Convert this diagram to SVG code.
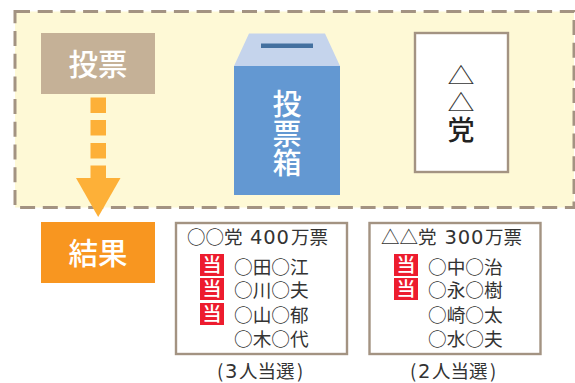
<svg xmlns="http://www.w3.org/2000/svg" width="575" height="383" viewBox="0 0 575 383">
<style>
text{font-family:"Noto Sans CJK JP","Noto Sans",sans-serif}
.w{fill:#fff;text-anchor:middle;font-weight:500}
.n{fill:#333;font-size:18.7px}
.h{fill:#333;font-size:18.5px}
.d{font-family:"DejaVu Sans",sans-serif;font-size:19.5px}
.c{fill:#333;font-size:18.5px}
.r{fill:#fff;stroke:#a39382;stroke-width:2.4}
.t{fill:#ed1c2e}
.a{fill:#fdb038}
.m{fill:#fff;font-size:19px;text-anchor:middle;font-weight:500}
</style>
<g id="panel"><rect x="15" y="11.500" width="559" height="196" fill="#fef9d6" stroke="#a39382" stroke-width="3" stroke-dasharray="15 7.700"/></g>
<g id="vote"><rect x="41" y="33" width="114" height="61" fill="#c5b197"/><text class="w" x="98" y="75" font-size="29.500">投票</text></g>
<g id="connectors">
<rect class="a" x="90.500" y="97.500" width="15.500" height="15.500"/>
<rect class="a" x="90.500" y="120" width="15.500" height="15.500"/>
<rect class="a" x="90.500" y="143" width="15.500" height="15.500"/>
<rect class="a" x="90.500" y="165.500" width="15.500" height="14"/>
<polygon class="a" points="76,178 120.500,178 98.200,217"/>
</g>
<g id="box">
<polygon points="234,66 249,33.500 325,33.500 340,66" fill="#c5d4ec"/>
<rect x="261" y="43.500" width="52" height="4.500" fill="#44709f"/>
<rect x="234" y="66" width="106" height="129" fill="#6398d2"/>
<text class="w" x="287" y="115" font-size="29">投</text>
<text class="w" x="287" y="145" font-size="29">票</text>
<text class="w" x="287" y="174" font-size="29">箱</text>
</g>
<g id="ballot"><rect x="415" y="33" width="93" height="139" fill="#fff" stroke="#a39382" stroke-width="2.400"/>
<text transform="translate(461,84) scale(1,.85)" font-size="27" fill="#333" text-anchor="middle">△</text>
<text transform="translate(461,111) scale(1,.85)" font-size="27" fill="#333" text-anchor="middle">△</text>
<text x="461" y="140" font-size="27" fill="#222" text-anchor="middle" font-weight="500">党</text></g>
<g id="result"><rect x="41" y="222" width="114" height="61" fill="#f89620"/><text class="w" x="98" y="264" font-size="29.500">結果</text></g>
<g id="res1"><rect class="r" x="176" y="223" width="171" height="131"/>
<text class="h" x="187" y="244">○○党 <tspan class="d" x="250 263.300 276.600">400</tspan><tspan x="291">万票</tspan></text>
<rect class="t" x="200" y="254" width="24" height="22"/><text class="m" x="212" y="272">当</text>
<rect class="t" x="200" y="278" width="24" height="22"/><text class="m" x="212" y="296">当</text>
<rect class="t" x="200" y="303" width="24" height="22"/><text class="m" x="212" y="321">当</text>
<text class="n" x="234" y="274">○田○江</text>
<text class="n" x="234" y="297">○川○夫</text>
<text class="n" x="234" y="322">○山○郁</text>
<text class="n" x="234" y="346">○木○代</text>
<text class="c" y="378" x="217"><tspan x="217">(</tspan><tspan class="d" x="225">3</tspan><tspan x="239">人当選</tspan><tspan x="297">)</tspan></text></g>
<g id="res2"><rect class="r" x="369.500" y="223" width="171" height="131"/>
<text class="h" x="381" y="244">△△党 <tspan class="d" x="444.500 457.800 471">300</tspan><tspan x="485">万票</tspan></text>
<rect class="t" x="394" y="254" width="24" height="22"/><text class="m" x="406" y="272">当</text>
<rect class="t" x="394" y="278" width="24" height="22"/><text class="m" x="406" y="296">当</text>
<text class="n" x="428" y="274">○中○治</text>
<text class="n" x="428" y="297">○永○樹</text>
<text class="n" x="428" y="322">○崎○太</text>
<text class="n" x="428" y="346">○水○夫</text>
<text class="c" y="378" x="410"><tspan x="410">(</tspan><tspan class="d" x="418">2</tspan><tspan x="432">人当選</tspan><tspan x="490">)</tspan></text></g>
</svg>
